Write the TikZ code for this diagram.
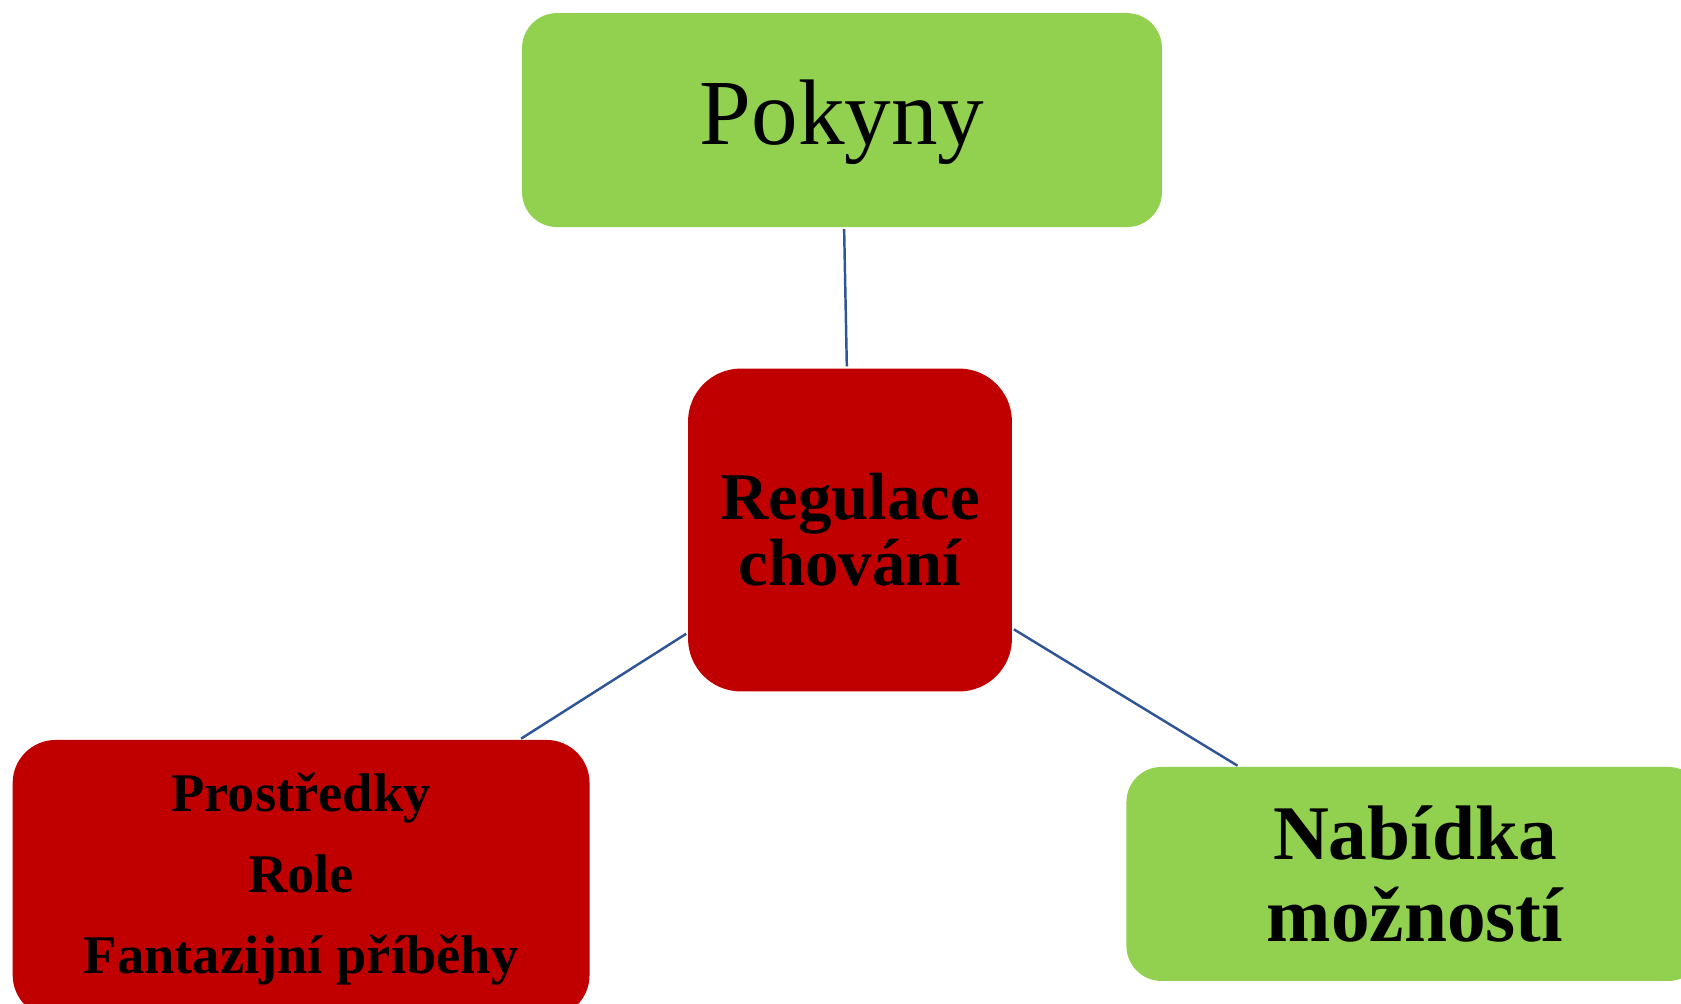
\documentclass[tikz,border=0pt]{standalone}
\usepackage{fontspec}
\setmainfont{Liberation Serif}
\usetikzlibrary{positioning}
\definecolor{leafgreen}{RGB}{146,208,80}
\definecolor{darkred}{RGB}{192,0,0}
\definecolor{linkblue}{RGB}{47,85,151}

\begin{document}
\begin{tikzpicture}[x=0.02cm,y=-0.02cm,on grid,
	box/.style={rectangle, inner sep=0pt, align=center, text=black},
	greenbox/.style={box, fill=leafgreen, rounded corners=0.7cm, minimum height=4.28cm},
	redbox/.style={box, fill=darkred},
	link/.style={draw=linkblue, line width=1.4pt, shorten <=1pt, shorten >=1pt}]
			\useasboundingbox (0,0) rectangle (1681,1004);
			\clip (0,0) rectangle (1681,1004);
			\node[redbox, rounded corners=1.06cm, minimum width=6.48cm, minimum height=6.46cm,
				font=\fontsize{38}{37.6}\selectfont\bfseries] (reg) at (850,530) {Regulace\\chování};
			\node[greenbox, minimum width=12.8cm, font=\fontsize{53}{60}\selectfont, text depth=0.3cm]
				(pokyny) [above=8.2cm of reg, xshift=-0.16cm] {Pokyny};
			\node[redbox, rounded corners=0.86cm, minimum width=11.54cm, minimum height=5.56cm,
				font=\fontsize{31}{46}\selectfont\bfseries]
				(prostr) [below left=6.98cm and 10.98cm of reg] {Prostředky\\Role\\Fantazijní příběhy};
			\node[greenbox, minimum width=11.54cm, font=\fontsize{44}{47}\selectfont\bfseries]
				(nabidka) [below right=6.88cm and 11.3cm of reg] {Nabídka\\možností};
			\path[link]
				(pokyny) edge (reg)
				(reg) edge (prostr)
				(reg) edge (nabidka);
		\end{tikzpicture}
\end{document}
